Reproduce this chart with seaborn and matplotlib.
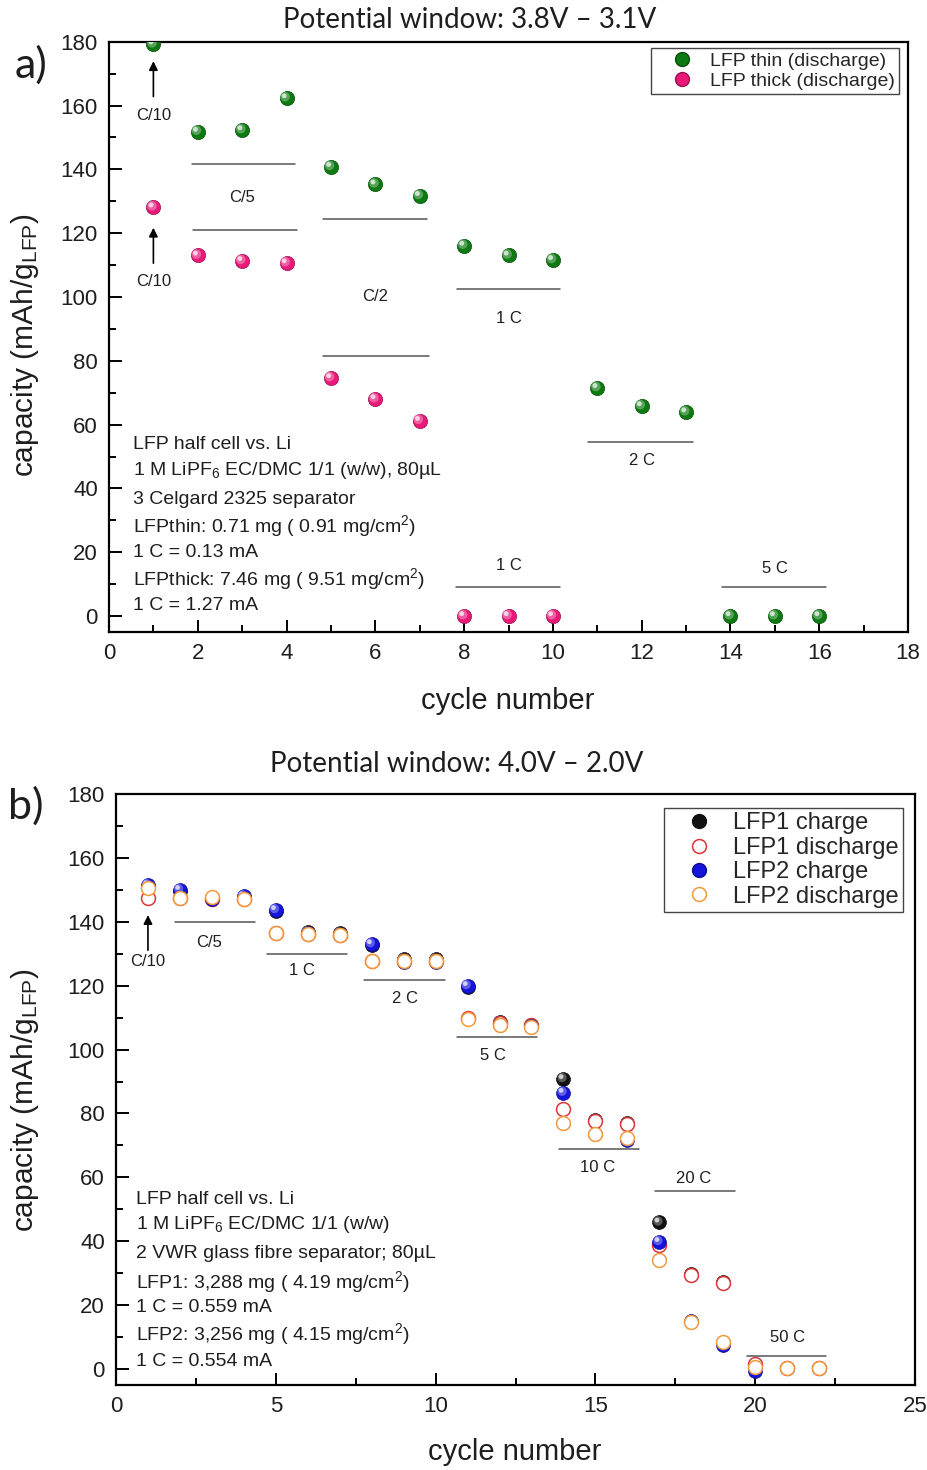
import matplotlib
matplotlib.use("Agg")
import matplotlib.pyplot as plt
import matplotlib.transforms as mtransforms
from matplotlib.lines import Line2D
from matplotlib.ticker import MultipleLocator
from matplotlib.colors import to_rgb
import seaborn as sns

# ---------------- panel a: 3.8 V - 3.1 V ----------------
cycles_thin = list(range(1, 17))
thin_discharge = [179.2, 151.8, 152.3, 162.3, 140.8, 135.3, 131.7, 116.1,
                  113.0, 111.6, 71.5, 65.8, 63.9, 0.0, 0.0, 0.0]
cycles_thick = list(range(1, 11))
thick_discharge = [128.1, 113.0, 111.3, 110.6, 74.6, 68.0, 61.2, 0.0, 0.0, 0.0]

# rate bars: (x_start, x_end, capacity)
rate_bars_a = [(1.86, 4.20, 141.8), (1.90, 4.23, 120.9), (4.83, 7.16, 124.4),
               (4.83, 7.20, 81.5), (7.83, 10.16, 102.5), (10.80, 13.15, 54.6),
               (7.82, 10.16, 9.2), (13.82, 16.16, 9.2)]
rate_labels_a = [("C/10", 1, 157.0), ("C/10", 1, 104.8), ("C/5", 3, 131.3),
                 ("C/2", 6, 100.3), ("1 C", 9, 93.4), ("2 C", 12, 48.9),
                 ("1 C", 9, 15.8), ("5 C", 15, 15.0)]
arrows_a = [(1, 162.8, 173.9), (1, 110.6, 121.7)]
notes_a = ["LFP half cell vs. Li",
           "1 M LiPF$_6$ EC/DMC 1/1 (w/w), 80µL",
           "3 Celgard 2325 separator",
           "LFPthin: 0.71 mg ( 0.91 mg/cm$^2$)",
           "1 C = 0.13 mA",
           "LFPthick: 7.46 mg ( 9.51 mg/cm$^2$)",
           "1 C = 1.27 mA"]
notes_a_y = [52.4, 44.1, 35.2, 26.3, 18.5, 9.6, 2.0]

# ---------------- panel b: 4.0 V - 2.0 V ----------------
cycles_b = list(range(1, 23))
lfp1_charge = [151.0, 149.5, 147.2, 147.6, 143.4, 136.8, 136.4, 132.8, 128.2,
               128.2, 119.6, 108.6, 107.6, 90.8, 77.9, 76.9, 45.9, 29.6, 27.2,
               0.8, 0.3, 0.3]
lfp1_discharge = [147.3, 147.3, 147.0, 147.0, 136.6, 136.2, 135.9, 127.8, 127.8,
                  127.8, 109.9, 108.2, 107.6, 81.3, 77.7, 76.7, 38.8, 29.4, 27.0,
                  1.5, 0.3, 0.3]
lfp2_charge = [151.5, 150.0, 147.0, 148.0, 143.7, 136.5, 136.0, 133.0, 127.5,
               127.5, 119.9, 107.8, 107.3, 86.5, 73.6, 71.6, 39.8, 15.0, 7.6,
               -0.5, 0.2, 0.2]
lfp2_discharge = [150.5, 147.3, 147.9, 147.1, 136.6, 136.2, 135.9, 127.8, 127.8,
                  127.8, 109.6, 107.7, 107.1, 76.9, 73.6, 72.2, 34.1, 14.8, 8.5,
                  0.5, 0.2, 0.2]

rate_bars_b = [(1.86, 4.35, 140.0), (4.72, 7.23, 129.8), (7.77, 10.28, 121.8),
               (10.67, 13.18, 104.0), (13.86, 16.36, 68.8), (16.86, 19.36, 55.7),
               (19.73, 22.20, 4.2)]
rate_labels_b = [("C/10", 1, 127.5), ("C/5", 2.9, 133.6), ("1 C", 5.83, 124.9),
                 ("2 C", 9.05, 116.1), ("5 C", 11.8, 98.0), ("10 C", 15.08, 63.1),
                 ("20 C", 18.07, 59.7), ("50 C", 21.0, 9.8)]
arrows_b = [(1, 131.1, 142.1)]
notes_b = ["LFP half cell vs. Li",
           "1 M LiPF$_6$ EC/DMC 1/1 (w/w)",
           "2 VWR glass fibre separator; 80µL",
           "LFP1: 3,288 mg ( 4.19 mg/cm$^2$)",
           "1 C = 0.559 mA",
           "LFP2: 3,256 mg ( 4.15 mg/cm$^2$)",
           "1 C = 0.554 mA"]
notes_b_y = [51.7, 43.9, 34.6, 25.4, 17.8, 9.0, 0.9]

# ---------------- style ----------------
sns.set_theme(style="ticks")
plt.rcParams["font.family"] = ["Liberation Sans", "DejaVu Sans"]
plt.rcParams["mathtext.fontset"] = "custom"
plt.rcParams["mathtext.rm"] = "Liberation Sans"
plt.rcParams["mathtext.it"] = "Liberation Sans:italic"
plt.rcParams["mathtext.bf"] = "Liberation Sans:bold"

GREEN, PINK = "#0c7a10", "#ea1878"
BLACK, BLUE = "#111111", "#1414dc"
RED, ORANGE = "#dd3535", "#f2993c"
BAR = "#555555"
TXT = "#1e1e1e"
TITLE_FONT = ["Lato", "DejaVu Sans"]


def lighten(c, f):
    r, g, b = to_rgb(c)
    return (r + (1 - r) * f, g + (1 - g) * f, b + (1 - b) * f)


def darken(c, f):
    r, g, b = to_rgb(c)
    return (r * (1 - f), g * (1 - f), b * (1 - f))


def balls(ax, x, y, color, size, z):
    """Shaded spheres: base disc plus two lighter, offset layers."""
    sns.scatterplot(x=x, y=y, ax=ax, s=size, color=color,
                    edgecolor=darken(color, 0.35), linewidth=0.5,
                    zorder=z, legend=False)
    layers = [(0.45, 0.30, 1.0), (0.12, 0.80, 1.7)]
    for i, (frac, light, shift) in enumerate(layers):
        sns.scatterplot(x=x, y=y, ax=ax, s=size * frac,
                        color=lighten(color, light), edgecolor="none",
                        linewidth=0, zorder=z + 0.1 * (i + 1), legend=False)
        coll = ax.collections[-1]
        coll.set_offset_transform(
            ax.transData + mtransforms.ScaledTranslation(
                -shift / 72, shift / 72, ax.figure.dpi_scale_trans))


def rings(ax, x, y, color, size, z):
    sns.scatterplot(x=x, y=y, ax=ax, s=size, facecolors="white",
                    edgecolor=color, linewidth=1.1, zorder=z, legend=False)
    ax.collections[-1].set_facecolor("white")


def decorate(ax, bars, labels, arrows, notes, notes_y, note_x):
    for x0, x1, yv in bars:
        ax.plot([x0, x1], [yv, yv], color=BAR, lw=1.1, zorder=2)
    for txt, xv, yv in labels:
        ax.text(xv, yv, txt, ha="center", va="center", fontsize=12, color=TXT)
    for xv, y0, y1 in arrows:
        ax.annotate("", xy=(xv, y1), xytext=(xv, y0),
                    arrowprops=dict(arrowstyle="-|>", color="black", lw=1.2,
                                    mutation_scale=13, shrinkA=0, shrinkB=0))
    for txt, yv in zip(notes, notes_y):
        ax.text(note_x, yv, txt, ha="left", va="baseline", fontsize=14,
                color=TXT)


def frame(ax, xmax, xmaj, xmin):
    ax.set_xlim(0, xmax)
    ax.set_ylim(-5, 180)
    ax.xaxis.set_major_locator(MultipleLocator(xmaj))
    ax.xaxis.set_minor_locator(MultipleLocator(xmin))
    ax.yaxis.set_major_locator(MultipleLocator(20))
    ax.yaxis.set_minor_locator(MultipleLocator(10))
    ax.tick_params(which="both", direction="in", top=False, right=False,
                   width=1.4, color="black", labelsize=16, labelcolor=TXT)
    ax.tick_params(which="major", length=9, pad=8)
    ax.tick_params(which="minor", length=5)
    for sp in ax.spines.values():
        sp.set_visible(True)
        sp.set_linewidth(1.6)
        sp.set_color("black")
    ax.set_xlabel("")
    ax.set_ylabel("")
    ax.set_facecolor("white")


W, H = 927, 1470
fig = plt.figure(figsize=(W / 100, H / 100), dpi=100)
fig.patch.set_facecolor("white")

ax_a = fig.add_axes([109 / W, 1 - 632 / H, 799 / W, 590.3 / H])
ax_b = fig.add_axes([116 / W, 1 - 1385 / H, 799 / W, 591 / H])

# ---- panel a ----
frame(ax_a, 18, 2, 1)
balls(ax_a, cycles_thin, thin_discharge, GREEN, 105, 4)
balls(ax_a, cycles_thick, thick_discharge, PINK, 105, 5)
decorate(ax_a, rate_bars_a, rate_labels_a, arrows_a, notes_a, notes_a_y, 0.53)

leg_a = ax_a.legend(
    handles=[Line2D([], [], marker="o", ls="none", markersize=10,
                    markerfacecolor=GREEN, markeredgecolor=darken(GREEN, 0.35)),
             Line2D([], [], marker="o", ls="none", markersize=10,
                    markerfacecolor=PINK, markeredgecolor=darken(PINK, 0.35))],
    labels=["LFP thin (discharge)", "LFP thick (discharge)"],
    loc="upper right", bbox_to_anchor=(0.989, 0.989), borderaxespad=0,
    fontsize=14, frameon=True, fancybox=False, edgecolor="#444444",
    framealpha=1, borderpad=0.2, labelspacing=0.12, handlelength=2.8,
    handletextpad=0.05)
leg_a.get_frame().set_linewidth(1.0)

# ---- panel b ----
frame(ax_b, 25, 5, 2.5)
balls(ax_b, cycles_b, lfp1_charge, BLACK, 100, 4)
rings(ax_b, cycles_b, lfp1_discharge, RED, 100, 5)
balls(ax_b, cycles_b, lfp2_charge, BLUE, 100, 6)
rings(ax_b, cycles_b, lfp2_discharge, ORANGE, 100, 7)
decorate(ax_b, rate_bars_b, rate_labels_b, arrows_b, notes_b, notes_b_y, 0.62)

leg_b = ax_b.legend(
    handles=[Line2D([], [], marker="o", ls="none", markersize=10,
                    markerfacecolor=BLACK, markeredgecolor=BLACK),
             Line2D([], [], marker="o", ls="none", markersize=10,
                    markerfacecolor="white", markeredgecolor=RED,
                    markeredgewidth=1.1),
             Line2D([], [], marker="o", ls="none", markersize=10,
                    markerfacecolor=BLUE, markeredgecolor=darken(BLUE, 0.35)),
             Line2D([], [], marker="o", ls="none", markersize=10,
                    markerfacecolor="white", markeredgecolor=ORANGE,
                    markeredgewidth=1.1)],
    labels=["LFP1 charge", "LFP1 discharge", "LFP2 charge", "LFP2 discharge"],
    loc="upper right", bbox_to_anchor=(0.9853, 0.9768), borderaxespad=0,
    fontsize=17, frameon=True, fancybox=False, edgecolor="#444444",
    framealpha=1, borderpad=0.2, labelspacing=0.1, handlelength=2.5,
    handletextpad=0.2)
leg_b.get_frame().set_linewidth(1.0)

# ---- titles, panel letters, axis labels ----
fig.text(470 / W, 1 - 20 / H, "Potential window: 3.8V \u2013 3.1V",
         ha="center", va="center", fontsize=20, family=TITLE_FONT, color=TXT)
fig.text(457 / W, 1 - 764 / H, "Potential window: 4.0V \u2013 2.0V",
         ha="center", va="center", fontsize=20, family=TITLE_FONT, color=TXT)
fig.text(31 / W, 1 - 65 / H, "a)", ha="center", va="center", fontsize=31,
         family=TITLE_FONT, color=TXT)
fig.text(26 / W, 1 - 806 / H, "b)", ha="center", va="center", fontsize=31,
         family=TITLE_FONT, color=TXT)

ylab = "capacity (mAh/g$_{\\mathrm{LFP}}$)"
fig.text(25 / W, 1 - 345 / H, ylab, rotation=90, ha="center", va="center",
         fontsize=21.5, color=TXT)
fig.text(25 / W, 1 - 1100 / H, ylab, rotation=90, ha="center", va="center",
         fontsize=21.5, color=TXT)
fig.text(508 / W, 1 - 701 / H, "cycle number", ha="center", va="center",
         fontsize=21, color=TXT)
fig.text(515 / W, 1 - 1452 / H, "cycle number", ha="center", va="center",
         fontsize=21, color=TXT)

fig.savefig("out.png", dpi=100, facecolor="white")
